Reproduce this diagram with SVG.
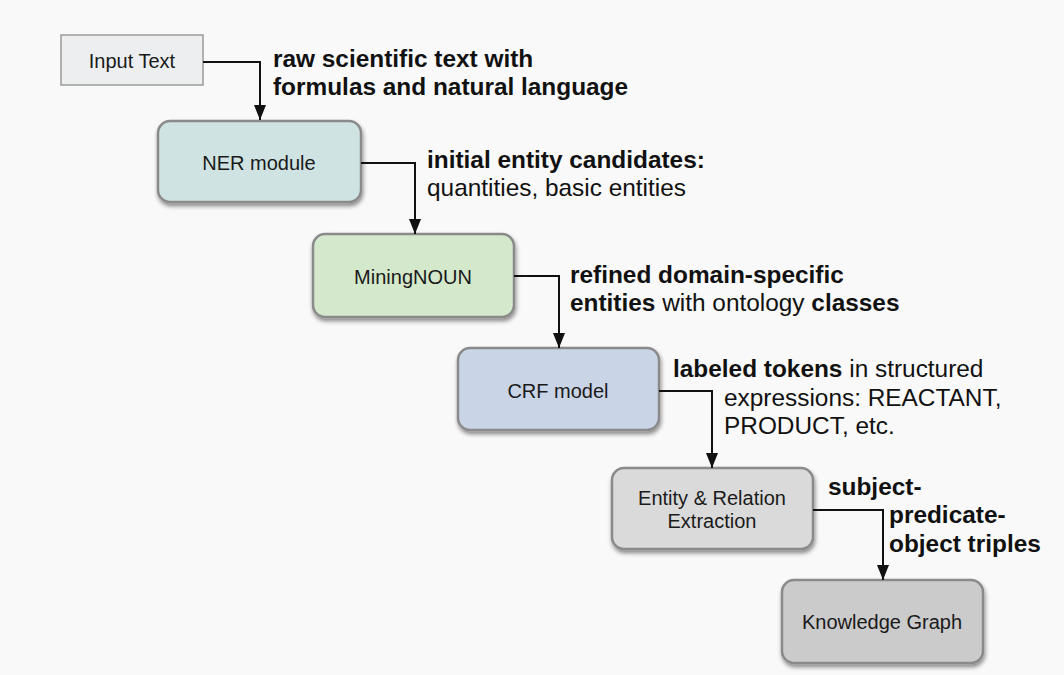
<svg xmlns="http://www.w3.org/2000/svg" width="1064" height="675" viewBox="0 0 1064 675">
  <defs>
    <filter id="shadow" x="-10%" y="-10%" width="125%" height="135%">
      <feDropShadow dx="1" dy="3" stdDeviation="2" flood-color="#000" flood-opacity="0.45"/>
    </filter>
    <marker id="arrow" viewBox="0 0 15 12" refX="15" refY="6" markerWidth="15" markerHeight="12" markerUnits="userSpaceOnUse" orient="auto">
      <path d="M0,0 L15,6 L0,12 Z" fill="#111"/>
    </marker>
    <style>
      .node { stroke: #8a8a8a; stroke-width: 2.5; filter: url(#shadow); }
      .ntext { font-family: "Liberation Sans", Arial, sans-serif; font-size: 20px; fill: #1a1a1a; text-anchor: middle; }
      .lbl { font-family: "Liberation Sans", Arial, sans-serif; font-size: 24.4px; fill: #111; }
      .b { font-weight: bold; }
      .conn { fill: none; stroke: #111; stroke-width: 2; }
    </style>
  </defs>

  <rect width="1064" height="675" fill="#f9f9f9"/>

  <!-- pipeline stages -->
  <g id="input-text">
    <rect x="61" y="35" width="142" height="50" fill="#eceef0" stroke="#9a9a9a" stroke-width="1.5"/>
    <text class="ntext" x="132" y="68">Input Text</text>
  </g>

  <g id="ner-module">
    <rect class="node" x="158" y="121" width="203" height="81" rx="12" fill="#cfe4e2"/>
    <text class="ntext" x="259" y="170">NER module</text>
  </g>

  <g id="miningnoun">
    <rect class="node" x="313" y="234" width="201" height="83" rx="12" fill="#d4e8cc"/>
    <text class="ntext" x="413" y="284">MiningNOUN</text>
  </g>

  <g id="crf-model">
    <rect class="node" x="458" y="348" width="201" height="82" rx="12" fill="#c9d4e6"/>
    <text class="ntext" x="558" y="398">CRF model</text>
  </g>

  <g id="entity-relation">
    <rect class="node" x="612" y="468" width="201" height="81" rx="12" fill="#dadada"/>
    <text class="ntext" x="712" y="505">Entity &amp; Relation</text>
    <text class="ntext" x="712" y="528">Extraction</text>
  </g>

  <g id="knowledge-graph">
    <rect class="node" x="782" y="580" width="201" height="83" rx="12" fill="#cbcbcb"/>
    <text class="ntext" x="882" y="629">Knowledge Graph</text>
  </g>

  <!-- elbow connectors between stages -->
  <g id="connectors">
    <path class="conn" d="M203,62 H260 V120" marker-end="url(#arrow)"/>
    <path class="conn" d="M361,163 H415 V234" marker-end="url(#arrow)"/>
    <path class="conn" d="M514,276 H559 V348" marker-end="url(#arrow)"/>
    <path class="conn" d="M659,391 H712 V468" marker-end="url(#arrow)"/>
    <path class="conn" d="M813,510 H883 V580" marker-end="url(#arrow)"/>
  </g>

  <!-- connector labels -->
  <g id="labels">
    <text class="lbl b" x="273" y="67">raw scientific text with</text>
    <text class="lbl b" x="273" y="95">formulas and natural language</text>

    <text class="lbl b" x="427" y="168">initial entity candidates:</text>
    <text class="lbl" x="427" y="196">quantities, basic entities</text>

    <text class="lbl b" x="570" y="283">refined domain-specific</text>
    <text class="lbl" x="570" y="311"><tspan class="b">entities</tspan> with ontology <tspan class="b">classes</tspan></text>

    <text class="lbl" x="673" y="377"><tspan class="b">labeled tokens</tspan> in structured</text>
    <text class="lbl" x="724" y="406">expressions: REACTANT,</text>
    <text class="lbl" x="724" y="434">PRODUCT, etc.</text>

    <text class="lbl b" x="828" y="495">subject-</text>
    <text class="lbl b" x="889" y="523">predicate-</text>
    <text class="lbl b" x="889" y="552">object triples</text>
  </g>
</svg>
